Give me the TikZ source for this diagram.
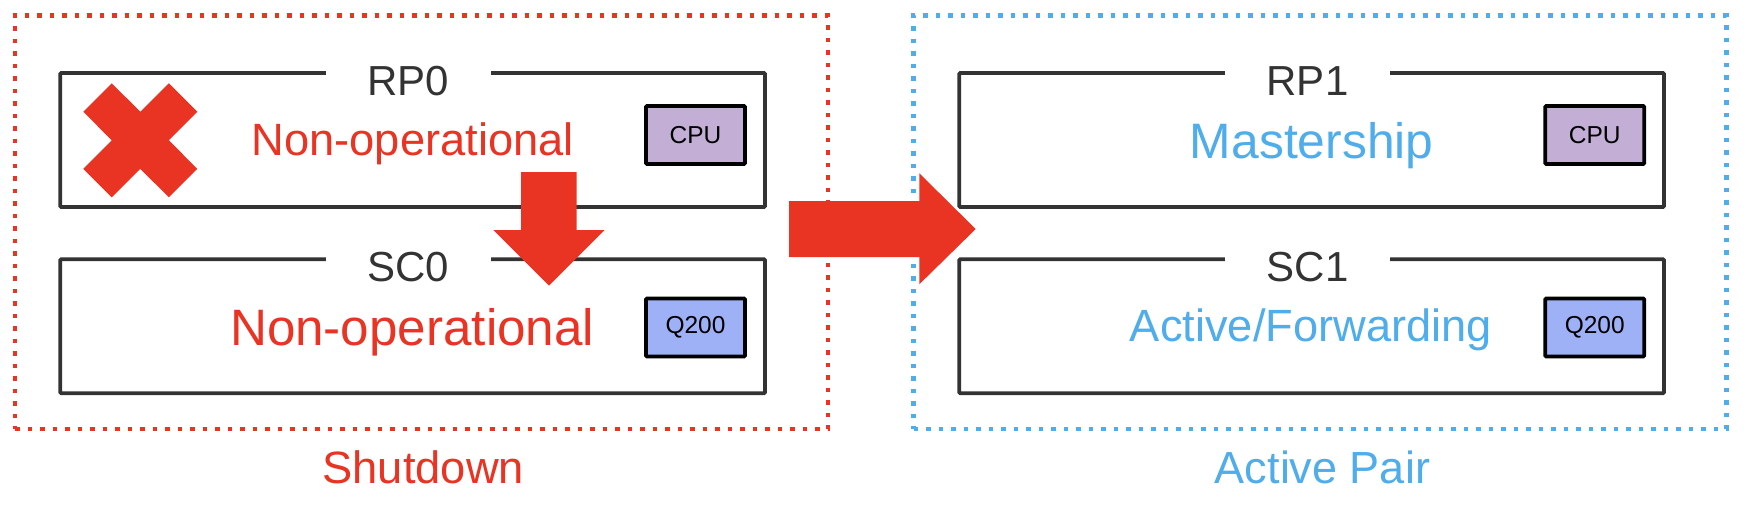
\documentclass[tikz,border=0pt]{standalone}
\usepackage{fontspec}
\setmainfont{Liberation Sans}
\definecolor{cred}{HTML}{E93323}
\definecolor{cblue}{HTML}{4EADEA}
\definecolor{cpufill}{HTML}{C3AED6}
\definecolor{qfill}{HTML}{9EB1F6}
\definecolor{boxline}{HTML}{333333}
\begin{document}
\begin{tikzpicture}[x=1pt,y=-1pt,
  card/.style={draw=boxline, line width=3.7pt, minimum width=704.7pt, minimum height=134pt, inner sep=0pt, rounded corners=1pt},
  chip/.style={draw=black, line width=3.6pt, minimum width=99pt, minimum height=58pt, inner sep=0pt, rounded corners=1pt, font=\fontsize{24.5}{28}\selectfont},
  grp/.style={draw=#1, line width=4.8pt, dash pattern=on 4.5pt off 8pt, minimum width=813pt, minimum height=413.3pt, inner sep=0pt},
  title/.style={fill=white, minimum width=165.6pt, inner sep=0pt, text=boxline, anchor=base, font=\fontsize{42}{48}\selectfont},
  state/.style={anchor=base, inner sep=0pt, text=#1},
  blockarrow/.style={fill=cred, draw=none}
]
\useasboundingbox (0,0) rectangle (1748,506);
% group frames
\node[grp=cred] (shut) at (421.5,222.35) {};
\node[grp=cblue] (act) at (1320,222.35) {};
% cards
\node[card] (rp0) at (412.65,140) {};
\node[card] (sc0) at (412.65,326.2) {};
\node[card] (rp1) at (1311.65,140) {};
\node[card] (sc1) at (1311.65,326.2) {};
% titles
\node[title] (rp0t) at (408.5,95) {RP0};
\node[title] (sc0t) at (408.5,281.7) {SC0};
\node[title] (rp1t) at (1307.5,95) {RP1};
\node[title] (sc1t) at (1307.5,281.7) {SC1};
% states
\node[state=cred, font=\fontsize{45.3}{52}\selectfont] (rp0s) at (412.8,155) {Non-operational};
\node[state=cred, font=\fontsize{51.2}{58}\selectfont] (sc0s) at (412.2,345.7) {Non-operational};
\node[state=cblue, font=\fontsize{49.8}{56}\selectfont] (rp1s) at (1311.7,158.3) {Mastership};
\node[state=cblue, font=\fontsize{45.2}{52}\selectfont] (sc1s) at (1310.8,341) {Active/Forwarding};
% group labels
\node[state=cred, font=\fontsize{45.3}{52}\selectfont] (shutl) at (423.3,483.3) {Shutdown};
\node[state=cblue, font=\fontsize{45}{52}\selectfont] (actl) at (1322.5,483.3) {Active Pair};
% chips
\node[chip, fill=cpufill] (cpu0) at (695.5,135) {CPU};
\node[chip, fill=qfill] (q0) at (695.5,327.5) {Q200};
\node[chip, fill=cpufill] (cpu1) at (1594.7,135) {CPU};
\node[chip, fill=qfill] (q1) at (1594.7,327.5) {Q200};
% X mark
\fill[cred] (140.3,140.3) ++(-57,-28.6) -- ++(28.4,-28.4) -- ++(28.6,28.4) -- ++(28.6,-28.4) -- ++(28.4,28.4)
  -- ++(-28.4,28.6) -- ++(28.4,28.6) -- ++(-28.4,28.4) -- ++(-28.6,-28.4) -- ++(-28.6,28.4) -- ++(-28.4,-28.4)
  -- ++(28.4,-28.6) -- cycle;
% down arrow RP0 -> SC0
\fill[blockarrow] (521,172) -- (576.7,172) -- (576.7,230) -- (604.7,230) -- (549,285.7) -- (493.3,230) -- (521,230) -- cycle;
% right arrow Shutdown -> Active Pair
\fill[blockarrow] (789,201) -- (919.3,201) -- (919.3,173.3) -- (975.7,229) -- (919.3,284.3) -- (919.3,257) -- (789,257) -- cycle;
\end{tikzpicture}
\end{document}
